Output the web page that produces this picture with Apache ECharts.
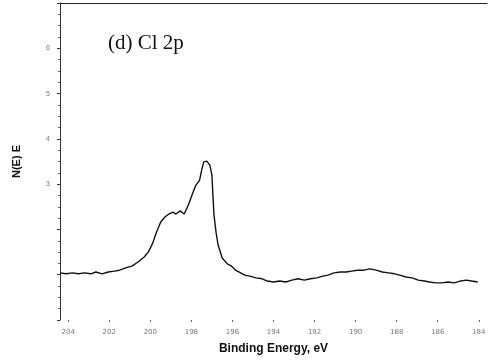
<!DOCTYPE html>
<html>
<head>
<meta charset="utf-8">
<script src="https://cdn.jsdelivr.net/npm/echarts@6/dist/echarts.min.js"></script>
<style>
  html, body { margin: 0; padding: 0; background: #fff; }
  #chart { width: 491px; height: 362px; }
</style>
</head>
<body>
<div id="chart"></div>
<script>
// binding energy (eV)
var energy = [
  204.4, 204.1, 203.8, 203.5, 203.2, 202.9, 202.65, 202.35, 202.05, 201.75,
  201.5, 201.2, 200.9, 200.6, 200.3, 200.1, 199.9, 199.7, 199.5, 199.3,
  199.1, 198.9, 198.75, 198.55, 198.35, 198.15, 197.95, 197.8, 197.6, 197.5,
  197.4, 197.25, 197.1, 197.0, 196.95, 196.9, 196.8, 196.7, 196.5, 196.25,
  196.05, 195.85, 195.6, 195.4, 195.15, 194.85, 194.55, 194.3, 194.0, 193.7,
  193.4, 193.1, 192.8, 192.5, 192.2, 191.9, 191.6, 191.35, 191.05, 190.75,
  190.45, 190.2, 189.9, 189.6, 189.3, 189.0, 188.7, 188.4, 188.1, 187.85,
  187.55, 187.25, 186.95, 186.65, 186.4, 186.1, 185.8, 185.5, 185.2, 184.9,
  184.6, 184.35, 184.05
];
// N(E)E counts (arb. units)
var counts = [
  1.04, 1.02, 1.04, 1.02, 1.04, 1.02, 1.06, 1.02, 1.06, 1.08,
  1.10, 1.15, 1.19, 1.28, 1.39, 1.50, 1.68, 1.94, 2.16, 2.27,
  2.34, 2.38, 2.34, 2.41, 2.34, 2.54, 2.78, 2.96, 3.09, 3.31,
  3.49, 3.51, 3.42, 3.20, 2.76, 2.32, 1.94, 1.66, 1.37, 1.24,
  1.19, 1.10, 1.04, 0.99, 0.97, 0.93, 0.91, 0.86, 0.84, 0.86,
  0.84, 0.88, 0.91, 0.88, 0.91, 0.93, 0.97, 0.99, 1.04, 1.06,
  1.06, 1.08, 1.10, 1.10, 1.13, 1.10, 1.06, 1.04, 1.02, 0.99,
  0.95, 0.93, 0.88, 0.86, 0.84, 0.82, 0.82, 0.84, 0.82, 0.86,
  0.88, 0.86, 0.84
];
var xTicks = [204, 202, 200, 198, 196, 194, 192, 190, 188, 186, 184];
var yLabelShown = [3, 4, 5, 6];

var chart = echarts.init(document.getElementById('chart'));

var points = energy.map(function (e, i) { return [e, counts[i]]; });

var option = {
  backgroundColor: '#fff',
  animation: false,
  grid: { left: 60, right: 4, top: 3, bottom: 42 },
  graphic: [{
    type: 'text',
    left: 108,
    top: 33,
    style: {
      text: '(d) Cl 2p',
      font: '21px "Liberation Serif", serif',
      fill: '#111'
    }
  }],
  xAxis: [{
    type: 'value',
    inverse: true,
    min: 183.6,
    max: 204.4,
    name: 'Binding Energy, eV',
    nameLocation: 'middle',
    nameGap: 23,
    nameTextStyle: { fontFamily: 'Liberation Sans', fontWeight: 'bold', fontSize: 12, color: '#111' },
    axisLine: { show: false },
    axisTick: { show: true, length: 2, lineStyle: { color: '#666' }, customValues: xTicks },
    axisLabel: {
      customValues: xTicks,
      fontSize: 7,
      color: '#777',
      margin: 9,
      fontFamily: 'DejaVu Sans'
    },
    splitLine: { show: false }
  }, {
    type: 'value',
    position: 'top',
    inverse: true,
    min: 183.6,
    max: 204.4,
    axisLine: { show: true, lineStyle: { color: '#222', width: 1.2 } },
    axisTick: { show: false },
    axisLabel: { show: false },
    splitLine: { show: false }
  }],
  yAxis: {
    type: 'value',
    min: 0,
    max: 7,
    interval: 1,
    name: 'N(E) E',
    nameLocation: 'middle',
    nameGap: 38,
    nameTextStyle: { fontFamily: 'Liberation Sans', fontWeight: 'bold', fontSize: 11, color: '#111' },
    axisLine: { show: true, lineStyle: { color: '#333', width: 1 } },
    axisTick: { show: true, inside: false, length: 3, lineStyle: { color: '#333' } },
    minorTick: { show: true, splitNumber: 4, length: 2, lineStyle: { color: '#666' } },
    axisLabel: {
      fontSize: 7,
      color: '#777',
      margin: 10,
      formatter: function (v) { return yLabelShown.indexOf(v) >= 0 ? String(v) : ''; }
    },
    splitLine: { show: false }
  },
  series: [{
    type: 'line',
    data: points,
    showSymbol: false,
    smooth: false,
    lineStyle: { color: '#111', width: 1.4 }
  }]
};

chart.setOption(option);
</script>
</body>
</html>
